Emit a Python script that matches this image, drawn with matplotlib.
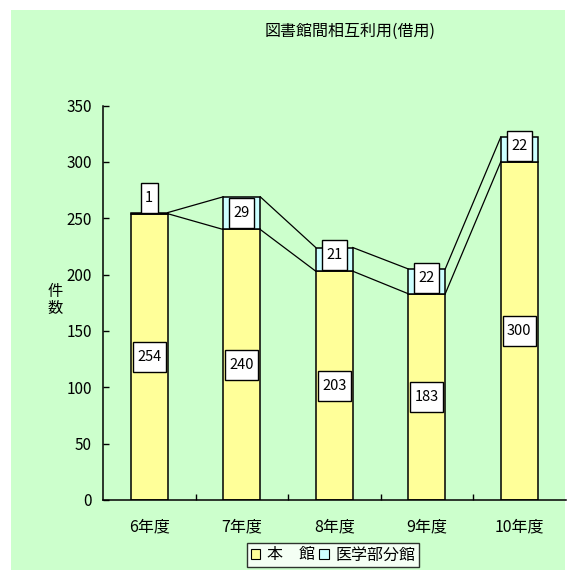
import numpy as np
import matplotlib
matplotlib.use('Agg')
import matplotlib.pyplot as plt
from matplotlib.patches import Rectangle
from matplotlib.path import Path

plt.rcParams['font.family'] = ['Noto Sans CJK JP', 'DejaVu Sans']

# 年度別の借用件数
nendo  = ['6年度', '7年度', '8年度', '9年度', '10年度']
honkan = [254, 240, 203, 183, 300]
igaku  = [1, 29, 21, 22, 22]
series = ['本\u3000館', '医学部分館']

BG     = '#CCFFCC'
YELLOW = '#FFFF99'
CYAN   = '#CCFFFF'


def tall_box(x0, y0, width, height, mutation_size):
    # 縦長の値ラベル枠
    px, py = 0.3 * mutation_size, 0.55 * mutation_size
    x1, y1 = x0 - px, y0 - py
    x2, y2 = x0 + width + px, y0 + height + py
    return Path([(x1, y1), (x2, y1), (x2, y2), (x1, y2), (x1, y1)], closed=True)


fig = plt.figure(figsize=(5.69, 5.78), dpi=100)
fig.patch.set_facecolor('white')
fig.patches.append(Rectangle((11 / 569, 8 / 578), 554 / 569, 560 / 578,
                             transform=fig.transFigure, facecolor=BG,
                             edgecolor='none', zorder=-10))

ax = fig.add_axes([103 / 569, 78 / 578, 462.5 / 569, 394.5 / 578])
ax.set_facecolor('none')

x = np.arange(len(nendo))
w = 0.4
honkan = np.array(honkan)
igaku = np.array(igaku)
total = honkan + igaku

ax.bar(x, honkan, w, color=YELLOW, edgecolor='black', linewidth=1.1, zorder=2,
       label=series[0])
ax.bar(x, igaku, w, bottom=honkan, color=CYAN, edgecolor='black', linewidth=1.1,
       zorder=2, label=series[1])

# 区分線
for i in range(len(x) - 1):
    xs = [x[i] + w / 2, x[i + 1] - w / 2]
    ax.plot(xs, [honkan[i], honkan[i + 1]], color='black', lw=0.9, zorder=1)
    ax.plot(xs, [total[i], total[i + 1]], color='black', lw=0.9, zorder=1)

box = dict(boxstyle=tall_box, facecolor='white', edgecolor='black',
           linewidth=1.0)
for i in range(len(x)):
    ax.text(x[i], honkan[i] / 2, str(honkan[i]), ha='center', va='center',
            fontsize=10.5, bbox=box, zorder=4)
    yc = max(honkan[i] + igaku[i] / 2, honkan[i] + 14)
    ax.text(x[i], yc, str(igaku[i]), ha='center', va='center',
            fontsize=10.5, bbox=box, zorder=4)

ax.set_xlim(-0.5, 4.5)
ax.set_ylim(0, 350)
ax.set_yticks(np.arange(0, 351, 50))
ax.set_xticks(x)
ax.set_xticklabels(nendo, fontsize=11.5)
ax.set_xticks(np.arange(0.5, 4.5, 1.0), minor=True)
ax.tick_params(axis='x', which='major', length=0, pad=13)
ax.tick_params(axis='x', which='minor', direction='in', length=4, width=1)
ax.tick_params(axis='y', direction='in', length=4, width=1, pad=8, labelsize=11)
for s in ['top', 'right']:
    ax.spines[s].set_visible(False)
for s in ['left', 'bottom']:
    ax.spines[s].set_linewidth(1.1)

fig.text(350 / 569, 1 - 31 / 578, '図書館間相互利用(借用)', ha='center',
         va='center', fontsize=11.5)
fig.text(55 / 569, 1 - 300 / 578, '件\n数', ha='center', va='center',
         fontsize=11, linespacing=1.0)

leg = fig.legend(loc='center', bbox_to_anchor=(333 / 569, 1 - 555 / 578),
                 ncol=2, fontsize=11.5, frameon=True, fancybox=False,
                 handlelength=0.6, handleheight=0.6, handletextpad=0.4,
                 columnspacing=0.3, borderpad=0.2, borderaxespad=0)
leg.get_frame().set_edgecolor('black')
leg.get_frame().set_linewidth(1.0)
for h in leg.legend_handles:
    h.set_linewidth(0.8)

fig.savefig('out.png', dpi=100, facecolor=fig.get_facecolor())
